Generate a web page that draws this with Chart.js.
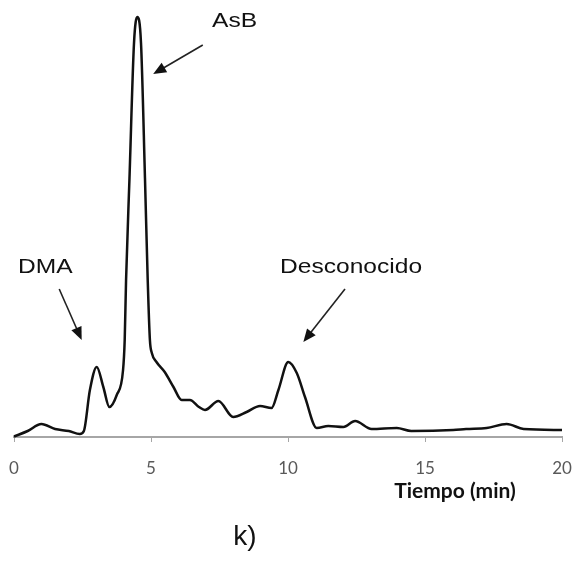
<!DOCTYPE html>
<html>
<head>
<meta charset="utf-8">
<script src="https://cdn.jsdelivr.net/npm/chart.js@4/dist/chart.umd.min.js"></script>
<style>
  html, body { margin: 0; padding: 0; background: #fff; }
  #wrap { width: 574px; height: 561px; position: relative; }
</style>
</head>
<body>
<div id="wrap"><canvas id="chart"></canvas></div>
<script>
// retention time (min) and detector signal
const times = [0, 0.5, 1.0, 1.5, 2.0, 2.4, 2.55, 2.77, 3.02, 3.26, 3.48, 3.75, 3.98, 4.04, 4.09, 4.215, 4.38, 4.5,
  4.635, 4.78, 4.88, 4.96, 5.03, 5.2, 5.5, 5.82, 6.12, 6.42, 6.75, 6.97, 7.46, 8.0, 8.49, 8.98, 9.4, 9.65,
  10.01, 10.32, 10.62, 11.05, 11.47, 12.02, 12.45, 13.05, 13.97, 14.5, 16.03, 16.5, 17.25, 17.98, 18.6, 20];
const signal = [0.5, 6, 13, 8, 6, 3, 6, 47, 70, 50, 30, 42, 67, 97, 157, 259, 394, 420,
  394, 259, 157, 97, 84, 75, 65, 50, 37, 37, 30, 27, 36, 20, 25, 31, 29, 47,
  75, 64, 40, 9, 11, 10, 16, 8, 9, 6, 7, 8, 9, 13, 8, 7];

const xTicks = [0, 5, 10, 15, 20];

// peak labels: text anchor, arrow start, arrow tip (data units)
const peakLabels = ["AsB", "DMA", "Desconocido"];
const labelAt = [[7.23, 410], [0.15, 164], [9.71, 164]];
const arrowFrom = [[6.89, 392], [1.65, 148], [12.08, 148]];
const arrowTo = [[5.08, 363], [2.47, 97], [10.56, 95]];

const points = times.map((t, i) => ({ x: t, y: signal[i] }));

const annotations = {
  id: "annotations",
  afterDraw(chart) {
    const ctx = chart.ctx;
    const xs = chart.scales.x;
    const ys = chart.scales.y;
    ctx.save();

    peakLabels.forEach((text, i) => {
      const tx = xs.getPixelForValue(labelAt[i][0]);
      const ty = ys.getPixelForValue(labelAt[i][1]);
      ctx.save();
      ctx.translate(tx, ty);
      ctx.scale(1.17, 1);
      ctx.font = "21px 'Liberation Sans', Arial, sans-serif";
      ctx.fillStyle = "#111";
      ctx.textBaseline = "alphabetic";
      ctx.textAlign = "left";
      ctx.fillText(text, 0, 0);
      ctx.restore();

      const x1 = xs.getPixelForValue(arrowFrom[i][0]);
      const y1 = ys.getPixelForValue(arrowFrom[i][1]);
      const x2 = xs.getPixelForValue(arrowTo[i][0]);
      const y2 = ys.getPixelForValue(arrowTo[i][1]);
      const ang = Math.atan2(y2 - y1, x2 - x1);
      const head = 13;
      ctx.strokeStyle = "#222";
      ctx.lineWidth = 1.6;
      ctx.beginPath();
      ctx.moveTo(x1, y1);
      ctx.lineTo(x2 - Math.cos(ang) * head * 0.8, y2 - Math.sin(ang) * head * 0.8);
      ctx.stroke();
      ctx.fillStyle = "#111";
      ctx.beginPath();
      ctx.moveTo(x2, y2);
      ctx.lineTo(x2 - head * Math.cos(ang) + 5.5 * Math.sin(ang), y2 - head * Math.sin(ang) - 5.5 * Math.cos(ang));
      ctx.lineTo(x2 - head * Math.cos(ang) - 5.5 * Math.sin(ang), y2 - head * Math.sin(ang) + 5.5 * Math.cos(ang));
      ctx.closePath();
      ctx.fill();
    });

    // axis title and panel letter
    ctx.fillStyle = "#111";
    ctx.textAlign = "center";
    ctx.textBaseline = "alphabetic";
    ctx.font = "bold 21px Lato, 'Open Sans', sans-serif";
    ctx.fillText("Tiempo (min)", 455, 498);
    ctx.font = "28px 'Liberation Sans', Arial, sans-serif";
    ctx.fillText("k)", 245, 545);
    ctx.restore();
  }
};

new Chart(document.getElementById("chart"), {
  type: "line",
  data: {
    datasets: [{
      data: points,
      borderColor: "#111",
      borderWidth: 2.5,
      pointRadius: 0,
      fill: false,
      cubicInterpolationMode: "monotone",
      clip: false
    }]
  },
  options: {
    responsive: true,
    maintainAspectRatio: false,
    animation: false,
    layout: { padding: { left: 14, right: 12, top: 0, bottom: 0 } },
    plugins: {
      legend: { display: false },
      tooltip: { enabled: false }
    },
    scales: {
      x: {
        type: "linear",
        min: xTicks[0],
        max: xTicks[xTicks.length - 1],
        afterBuildTicks: scale => {
          scale.ticks = xTicks.map(v => ({ value: v }));
        },
        afterFit: scale => {
          scale.height = 124;
          scale.paddingLeft = 0;
          scale.paddingRight = 0;
        },
        border: { display: true, color: "#a6a6a6", width: 2 },
        grid: {
          drawOnChartArea: false,
          drawTicks: true,
          tickLength: 5,
          color: "#a6a6a6",
          lineWidth: 1
        },
        ticks: {
          color: "#595959",
          font: { family: "Lato, 'Open Sans', sans-serif", size: 17 },
          padding: 16,
          maxRotation: 0
        }
      },
      y: {
        display: false,
        min: 0,
        max: 437
      }
    }
  },
  plugins: [annotations]
});
</script>
</body>
</html>
